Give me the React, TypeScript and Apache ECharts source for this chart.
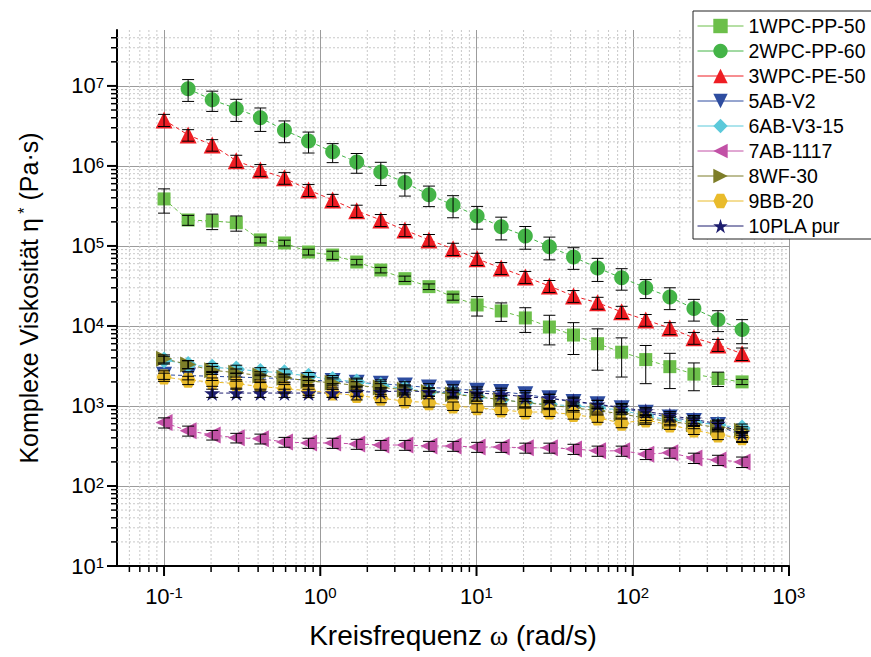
import React, { useEffect, useRef } from 'react';
import * as echarts from 'echarts';

// Angular frequency sweep (rad/s)
const omega = [0.1, 0.1426, 0.2034, 0.29, 0.4136, 0.5899, 0.8412, 1.2, 1.711, 2.44, 3.48, 4.962, 7.077, 10.09, 14.39, 20.53, 29.27, 41.75, 59.54, 84.9, 121.1, 172.7, 246.3, 351.2, 500.8];

const seriesNames = ['1WPC-PP-50', '2WPC-PP-60', '3WPC-PE-50', '5AB-V2', '6AB-V3-15', '7AB-1117', '8WF-30', '9BB-20', '10PLA pur'];

// complex viscosity (Pa·s) and error (Pa·s)
const wpcPP50 = [3.87e5, 2.11e5, 2.05e5, 1.95e5, 1.19e5, 1.09e5, 8.4e4, 7.7e4, 6.3e4, 5.0e4, 3.9e4, 3.1e4, 2.3e4, 1.83e4, 1.54e4, 1.26e4, 9.7e3, 7.7e3, 6.0e3, 4.7e3, 3.8e3, 3.1e3, 2.5e3, 2.2e3, 2.0e3];
const wpcPP50Err = [1.3e5, 3e4, 4.5e4, 4.2e4, 1.0e4, 9e3, 7e3, 9e3, 5e3, 4e3, 3e3, 2.5e3, 2e3, 5e3, 4e3, 4.3e3, 3.9e3, 3.3e3, 3.2e3, 2.4e3, 1.9e3, 1.45e3, 9.5e2, 4.5e2, 1.5e2];

const wpcPP60 = [null, 9.2e6, 6.7e6, 5.2e6, 4.0e6, 2.8e6, 2.05e6, 1.5e6, 1.12e6, 8.4e5, 6.2e5, 4.35e5, 3.25e5, 2.37e5, 1.74e5, 1.33e5, 9.8e4, 7.3e4, 5.3e4, 4.0e4, 3.0e4, 2.3e4, 1.65e4, 1.2e4, 9.0e3];
const wpcPP60Err = [null, 2.8e6, 1.9e6, 1.6e6, 1.3e6, 8.5e5, 6.0e5, 4.0e5, 3.1e5, 2.7e5, 2.0e5, 1.25e5, 1.0e5, 7.5e4, 5.5e4, 4.2e4, 3.1e4, 2.2e4, 1.7e4, 1.2e4, 8e3, 7e3, 5e3, 3.5e3, 3e3];

const wpcPE50 = [3.76e6, 2.44e6, 1.83e6, 1.16e6, 8.9e5, 7.1e5, 5.0e5, 3.76e5, 2.75e5, 2.11e5, 1.58e5, 1.19e5, 9.2e4, 6.9e4, 5.3e4, 4.1e4, 3.16e4, 2.37e4, 1.95e4, 1.5e4, 1.19e4, 9.4e3, 7.1e3, 5.8e3, 4.5e3];
const wpcPE50Err = [6.5e5, 4e5, 3e5, 2e5, 1.5e5, 1.2e5, 8.5e4, 6.5e4, 4.8e4, 3.6e4, 2.7e4, 2.0e4, 1.6e4, 1.2e4, 9e3, 7e3, 5.4e3, 4e3, 3.3e3, 2.6e3, 2e3, 1.6e3, 1.2e3, 1e3, 8e2];

const abV2 = [2.45e3, 2.4e3, 2.35e3, 2.3e3, 2.25e3, 2.2e3, 2.1e3, 2.05e3, 1.95e3, 1.9e3, 1.8e3, 1.7e3, 1.65e3, 1.55e3, 1.5e3, 1.4e3, 1.25e3, 1.12e3, 1.05e3, 940, 820, 720, 650, 580, 420];
const abV2Err = [300, 280, 270, 260, 250, 250, 240, 230, 220, 220, 210, 200, 190, 180, 170, 160, 150, 130, 120, 110, 100, 90, 80, 70, 60];

const abV3 = [3.76e3, 3.3e3, 3.05e3, 2.9e3, 2.7e3, 2.6e3, 2.35e3, 2.15e3, 2.0e3, 1.8e3, 1.65e3, 1.5e3, 1.45e3, 1.3e3, 1.2e3, 1.1e3, 1.05e3, 1.0e3, 950, 890, 750, 670, 630, 580, 530];
const abV3Err = [420, 380, 350, 330, 310, 300, 270, 250, 230, 210, 190, 170, 170, 150, 140, 130, 120, 120, 110, 100, 90, 80, 75, 70, 65];

const ab1117 = [620, 490, 435, 400, 390, 355, 345, 345, 335, 325, 325, 316, 316, 307, 307, 300, 300, 290, 275, 275, 250, 260, 224, 211, 200];
const ab1117Err = [90, 70, 60, 55, 55, 50, 50, 50, 48, 46, 46, 45, 45, 44, 44, 43, 43, 42, 40, 40, 36, 38, 33, 31, 30];

const wf30 = [3.9e3, 3.3e3, 2.8e3, 2.6e3, 2.4e3, 2.25e3, 2.05e3, 1.95e3, 1.8e3, 1.7e3, 1.6e3, 1.5e3, 1.4e3, 1.3e3, 1.2e3, 1.1e3, 1.02e3, 950, 870, 800, 700, 640, 590, 540, 490];
const wf30Err = [450, 380, 320, 300, 280, 260, 240, 230, 210, 200, 190, 180, 170, 150, 140, 130, 120, 110, 100, 95, 85, 75, 70, 65, 60];

const bb20 = [2.3e3, 2.1e3, 2.0e3, 1.9e3, 1.75e3, 1.65e3, 1.55e3, 1.45e3, 1.35e3, 1.25e3, 1.15e3, 1.1e3, 1.0e3, 950, 890, 840, 840, 780, 710, 610, 670, 580, 500, 435, 400];
const bb20Err = [270, 250, 240, 230, 210, 200, 190, 170, 160, 150, 140, 130, 120, 115, 110, 100, 100, 95, 85, 75, 80, 70, 60, 55, 50];

const plaPur = [null, null, 1.45e3, 1.45e3, 1.45e3, 1.45e3, 1.45e3, 1.45e3, 1.5e3, 1.5e3, 1.55e3, 1.5e3, 1.5e3, 1.45e3, 1.4e3, 1.3e3, 1.25e3, 1.15e3, 1.05e3, 960, 860, 760, 680, 600, 460];
const plaPurErr = [null, null, 170, 170, 170, 170, 170, 170, 180, 180, 180, 180, 180, 170, 170, 160, 150, 140, 130, 115, 100, 90, 80, 70, 55];

const xMajorTicks = [0.1, 1, 10, 100, 1000];
const yMajorTicks = [10, 100, 1e3, 1e4, 1e5, 1e6, 1e7];

const X_MIN = 0.05;
const X_MAX = 1000;
const Y_MIN = 10;
const Y_MAX = 5e7;

const FONT = 'Liberation Sans, Arial, sans-serif';

const HEX = 'path://M-1,0 L-0.5,-0.866 L0.5,-0.866 L1,0 L0.5,0.866 L-0.5,0.866 Z';
const STAR = 'path://M0,-1 L0.2245,-0.309 L0.951,-0.309 L0.363,0.118 L0.588,0.809 L0,0.382 L-0.588,0.809 L-0.363,0.118 L-0.951,-0.309 L-0.2245,-0.309 Z';

const valueSets = [wpcPP50, wpcPP60, wpcPE50, abV2, abV3, ab1117, wf30, bb20, plaPur];
const errorSets = [wpcPP50Err, wpcPP60Err, wpcPE50Err, abV2Err, abV3Err, ab1117Err, wf30Err, bb20Err, plaPurErr];
const colors = ['#6cbf4a', '#44b447', '#ee1d23', '#2e4da0', '#5bc9da', '#c251a6', '#7d7d28', '#e9bb2b', '#1d1d6e'];
const symbols = ['rect', 'circle', 'triangle', 'triangle', 'diamond', 'triangle', 'triangle', HEX, STAR];
const symbolSizes = [13, 15, 17, 16, 17, 17, 16, 15, 16];
const symbolRotates = [0, 0, 0, 180, 0, 90, -90, 0, 0];

function minorValues(lo: number, hi: number) {
  const out: number[] = [];
  for (let e = -3; e <= 8; e++) {
    for (let m = 2; m <= 9; m++) {
      const v = m * Math.pow(10, e);
      if (v > lo * 1.0001 && v < hi * 0.9999) out.push(v);
    }
  }
  return out;
}

function powLabel(v: number) {
  const l = Math.log10(v);
  const e = Math.round(l);
  if (Math.abs(l - e) > 1e-6) return '';
  return '{b|10}{s|' + e + '}';
}

export default function App() {
  const ref = useRef<HTMLDivElement>(null);
  useEffect(() => {
    const chart = echarts.init(ref.current!, null, { renderer: 'svg' });

    const labelRich = {
      b: { fontSize: 22, lineHeight: 22, fontFamily: FONT, color: '#000' },
      s: { fontSize: 15, lineHeight: 8, verticalAlign: 'top', fontFamily: FONT, color: '#000' },
    };

    // axis decoration data: [x, y, kind]  kind 0 x-minor, 1 x-major, 2 y-minor, 3 y-major
    const decoData: number[][] = [];
    minorValues(X_MIN, X_MAX).forEach((v) => decoData.push([v, Y_MIN, 0]));
    xMajorTicks.forEach((v) => decoData.push([v, Y_MIN, 1]));
    minorValues(Y_MIN, Y_MAX).forEach((v) => decoData.push([X_MIN, v, 2]));
    yMajorTicks.forEach((v) => decoData.push([X_MIN, v, 3]));

    const decoSeries = {
      type: 'custom',
      name: 'axis-deco',
      silent: true,
      clip: false,
      z: 1,
      data: decoData,
      encode: { x: 0, y: 1 },
      renderItem: (_p: any, api: any) => {
        const kind = api.value(2);
        const dot = { stroke: '#c8c8c8', lineWidth: 1, lineDash: [2, 2] };
        const tick = { stroke: '#000', lineWidth: kind % 2 === 1 ? 2 : 1.5 };
        const len = kind % 2 === 1 ? 10 : 6;
        const children: any[] = [];
        if (kind < 2) {
          const v = api.value(0);
          const b = api.coord([v, Y_MIN]);
          const t = api.coord([v, Y_MAX]);
          if (kind === 0) children.push({ type: 'line', shape: { x1: b[0], y1: t[1], x2: b[0], y2: b[1] }, style: dot });
          children.push({ type: 'line', shape: { x1: b[0], y1: b[1], x2: b[0], y2: b[1] + len }, style: tick });
        } else {
          const v = api.value(1);
          const l = api.coord([X_MIN, v]);
          const r = api.coord([X_MAX, v]);
          if (kind === 2) children.push({ type: 'line', shape: { x1: l[0], y1: l[1], x2: r[0], y2: l[1] }, style: dot });
          children.push({ type: 'line', shape: { x1: l[0] - len, y1: l[1], x2: l[0], y2: l[1] }, style: tick });
        }
        return { type: 'group', children };
      },
    };

    const lineSeries = seriesNames.map((name, i) => ({
      type: 'line',
      name,
      z: 3,
      data: omega.map((x, j) => [x, valueSets[i][j]]).filter((d) => d[1] != null),
      symbol: symbols[i],
      symbolSize: symbolSizes[i],
      symbolRotate: symbolRotates[i],
      showSymbol: true,
      itemStyle: { color: colors[i] },
      lineStyle: { color: colors[i], width: 1, type: [4, 3] },
    }));

    const errorSeries = seriesNames.map((name, i) => ({
      type: 'custom',
      name: 'err-' + name,
      silent: true,
      z: 4,
      data: omega
        .map((x, j) => [x, valueSets[i][j], errorSets[i][j]])
        .filter((d) => d[1] != null && d[2] != null),
      encode: { x: 0, y: 1 },
      renderItem: (_p: any, api: any) => {
        const x = api.value(0);
        const y = api.value(1);
        const e = api.value(2);
        const t = api.coord([x, y + e]);
        const b = api.coord([x, Math.max(y - e, 1e-3)]);
        const st = { stroke: '#000', lineWidth: 1 };
        return {
          type: 'group',
          children: [
            { type: 'line', shape: { x1: t[0], y1: t[1], x2: t[0], y2: b[1] }, style: st },
            { type: 'line', shape: { x1: t[0] - 6, y1: t[1], x2: t[0] + 6, y2: t[1] }, style: st },
            { type: 'line', shape: { x1: t[0] - 6, y1: b[1], x2: t[0] + 6, y2: b[1] }, style: st },
          ],
        };
      },
    }));

    chart.setOption({
      animation: false,
      backgroundColor: '#fff',
      grid: { left: 117, right: 82, top: 30, bottom: 91, containLabel: false },
      legend: {
        data: seriesNames,
        orient: 'vertical',
        left: 693,
        top: 11,
        padding: [5, 6, 3, 4],
        itemWidth: 46,
        itemHeight: 18,
        itemGap: 5,
        borderColor: '#222',
        borderWidth: 1,
        backgroundColor: '#fff',
        lineStyle: { type: 'solid', width: 1 },
        textStyle: { fontSize: 19.5, lineHeight: 20, fontFamily: FONT, color: '#000' },
      },
      xAxis: {
        type: 'log',
        logBase: 10,
        min: X_MIN,
        max: X_MAX,
        name: '{t|Kreisfrequenz }{w|ω}{t| (rad/s)}',
        nameLocation: 'middle',
        nameGap: 55,
        nameTextStyle: {
          rich: {
            t: { fontSize: 28, fontFamily: FONT, color: '#000' },
            w: { fontSize: 28, fontFamily: 'Liberation Serif, serif', color: '#000' },
          },
        },
        axisLine: { show: true, onZero: false, lineStyle: { color: '#000', width: 2 } },
        axisTick: { show: false },
        axisLabel: { margin: 19, formatter: powLabel, rich: labelRich },
        splitLine: { show: true, showMinLine: false, lineStyle: { color: '#9c9c9c', width: 1 } },
      },
      yAxis: {
        type: 'log',
        logBase: 10,
        min: Y_MIN,
        max: Y_MAX,
        name: '{t|Komplexe Viskosität η}{s| *}{t| (Pa·s)}',
        nameLocation: 'middle',
        nameRotate: 90,
        nameGap: 76,
        nameTextStyle: {
          rich: {
            t: { fontSize: 25, lineHeight: 25, fontFamily: FONT, color: '#000' },
            s: { fontSize: 16, lineHeight: 10, verticalAlign: 'top', fontFamily: FONT, color: '#000' },
          },
        },
        axisLine: { show: true, onZero: false, lineStyle: { color: '#000', width: 2 } },
        axisTick: { show: false },
        axisLabel: { margin: 13, formatter: powLabel, rich: labelRich },
        splitLine: { show: true, showMinLine: false, showMaxLine: false, lineStyle: { color: '#9c9c9c', width: 1 } },
      },
      series: [decoSeries, ...lineSeries, ...errorSeries],
    });
    return () => chart.dispose();
  }, []);
  return (
    <div
      ref={ref}
      style={{ position: 'fixed', left: 0, top: 0, width: 871, height: 657, background: '#fff' }}
    />
  );
}
